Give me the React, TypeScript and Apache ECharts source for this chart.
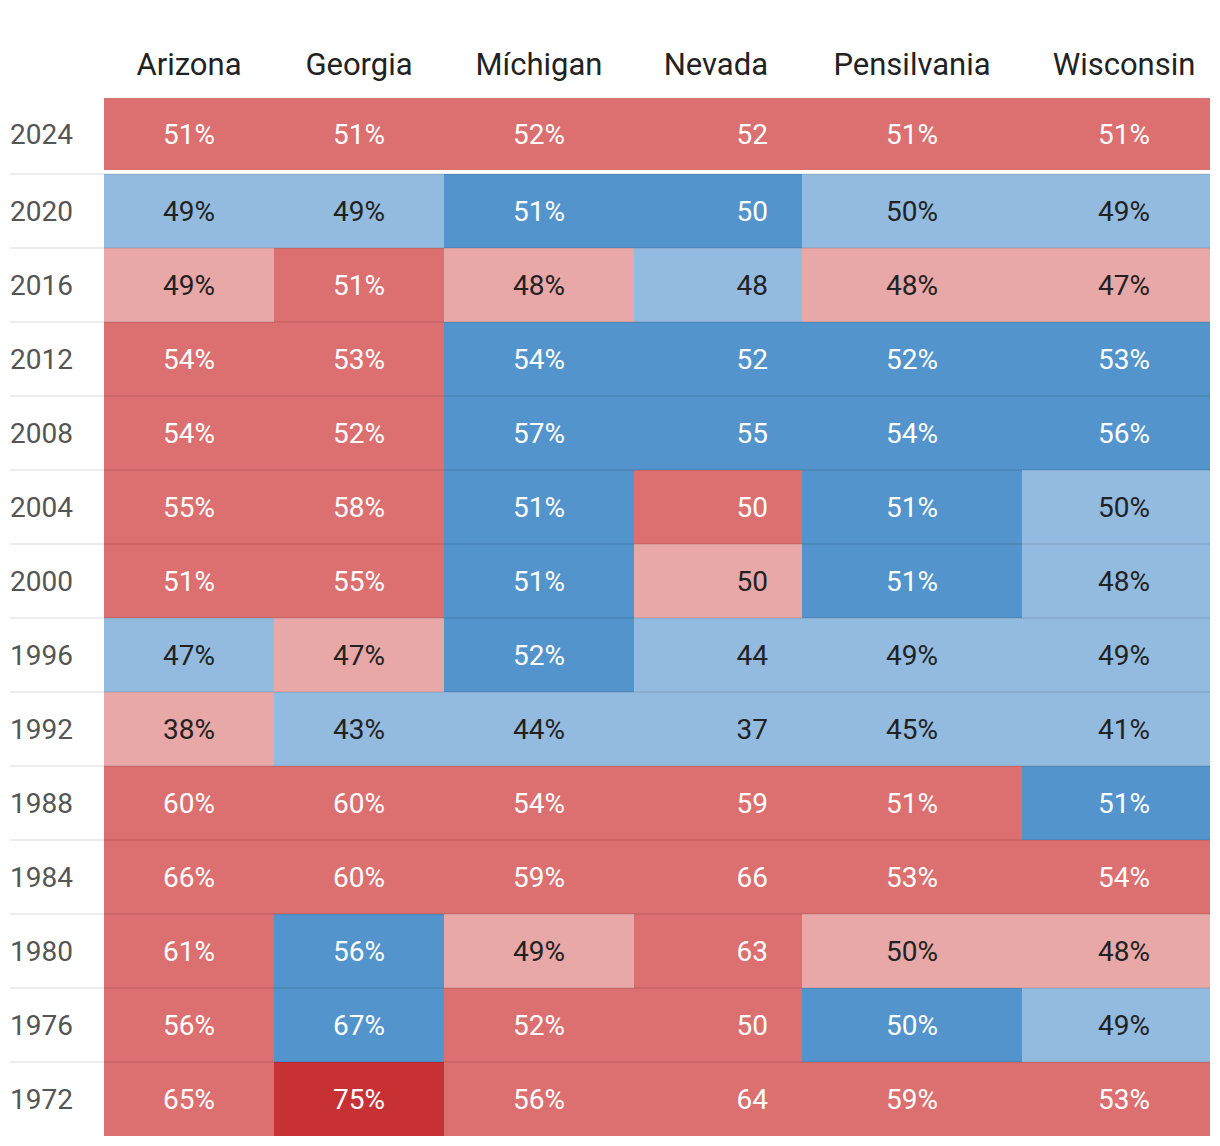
import React, { useEffect, useRef } from "react";
import * as echarts from "echarts";

const years = ["2024", "2020", "2016", "2012", "2008", "2004", "2000", "1996", "1992", "1988", "1984", "1980", "1976", "1972"];
const states = ["Arizona", "Georgia", "Míchigan", "Nevada", "Pensilvania", "Wisconsin"];
const suffixes = ["%", "%", "%", "", "%", "%"];

const arizona = [51, 49, 49, 54, 54, 55, 51, 47, 38, 60, 66, 61, 56, 65];
const georgia = [51, 49, 51, 53, 52, 58, 55, 47, 43, 60, 60, 56, 67, 75];
const michigan = [52, 51, 48, 54, 57, 51, 51, 52, 44, 54, 59, 49, 52, 56];
const nevada = [52, 50, 48, 52, 55, 50, 50, 44, 37, 59, 66, 63, 50, 64];
const pensilvania = [51, 50, 48, 52, 54, 51, 51, 49, 45, 51, 53, 50, 50, 59];
const wisconsin = [51, 49, 47, 53, 56, 50, 48, 49, 41, 51, 54, 48, 49, 53];

// R = Republican majority, r = Republican plurality, B / b = Democrat, RR = Republican landslide
const arizonaShade = ["R", "b", "r", "R", "R", "R", "R", "b", "r", "R", "R", "R", "R", "R"];
const georgiaShade = ["R", "b", "R", "R", "R", "R", "R", "r", "b", "R", "R", "B", "B", "RR"];
const michiganShade = ["R", "B", "r", "B", "B", "B", "B", "B", "b", "R", "R", "r", "R", "R"];
const nevadaShade = ["R", "B", "b", "B", "B", "R", "r", "b", "b", "R", "R", "R", "R", "R"];
const pensilvaniaShade = ["R", "b", "r", "B", "B", "B", "B", "b", "b", "R", "R", "r", "B", "R"];
const wisconsinShade = ["R", "b", "r", "B", "B", "b", "b", "b", "b", "B", "R", "r", "b", "R"];

const stateValues = [arizona, georgia, michigan, nevada, pensilvania, wisconsin];
const stateShades = [arizonaShade, georgiaShade, michiganShade, nevadaShade, pensilvaniaShade, wisconsinShade];

// layout (x units = pixels from grid left)
const colEdges = [94, 264, 434, 624, 792, 1012, 1200];
const textX = [179, 349, 529, 758, 902, 1114];
const textAlign = ["center", "center", "center", "right", "center", "center"];

const shadeFill: Record<string, string> = {
  R: "#dc6f6f",
  r: "#e8a8a8",
  RR: "#c83134",
  B: "#5294cb",
  b: "#93bbdf",
};
const shadeText: Record<string, string> = {
  R: "#ffffff",
  r: "#222222",
  RR: "#ffffff",
  B: "#ffffff",
  b: "#222222",
};

const FONT = "Roboto, 'Noto Sans', sans-serif";

export default function App() {
  const ref = useRef<HTMLDivElement>(null);
  useEffect(() => {
    document.body.style.margin = "0";
    const chart = echarts.init(ref.current!, null, { renderer: "svg" });
    const cells: { c: number; r: number; v: number; s: string }[] = [];
    stateValues.forEach((vals, c) => {
      vals.forEach((v, r) => cells.push({ c, r, v, s: stateShades[c][r] }));
    });
    const option: any = {
      animation: false,
      backgroundColor: "#ffffff",
      grid: { left: 10, right: 10, top: 100, bottom: 10 },
      xAxis: { type: "value", min: 0, max: 1200, show: false },
      yAxis: {
        type: "category",
        data: years,
        inverse: true,
        axisLine: { show: false },
        axisTick: { show: false },
        splitLine: { show: false },
        axisLabel: { show: false },
      },
      series: [
        {
          type: "custom",
          data: cells.map((d) => [d.c, d.r, d.v]),
          renderItem: (params: any, api: any) => {
            const cell = cells[params.dataIndex];
            const c = cell.c;
            const r = cell.r;
            const band = api.size([0, 1])[1];
            const center = api.coord([colEdges[c], r]);
            const x0 = center[0];
            const x1 = api.coord([colEdges[c + 1], r])[0];
            const bandTop = center[1] - band / 2;
            const top = r === 0 ? bandTop - 2 : bandTop;
            const h = r === 0 ? band - 2 : band;
            const cy = r === 0 ? bandTop + 34 : center[1];
            const tx = api.coord([textX[c], r])[0];
            const children: any[] = [
              {
                type: "rect",
                shape: { x: x0, y: top, width: x1 - x0, height: h },
                style: { fill: shadeFill[cell.s] },
              },
              {
                type: "text",
                x: tx,
                y: cy,
                style: {
                  text: cell.v + suffixes[c],
                  fill: shadeText[cell.s],
                  fontSize: 28,
                  fontFamily: FONT,
                  align: textAlign[c],
                  verticalAlign: "middle",
                },
              },
            ];
            if (c === 0) {
              children.push({
                type: "text",
                x: api.coord([0, r])[0],
                y: cy,
                style: {
                  text: years[r],
                  fill: "#555555",
                  fontSize: 28,
                  fontFamily: FONT,
                  align: "left",
                  verticalAlign: "middle",
                },
              });
            }
            if (r > 0) {
              const lx0 = c === 0 ? api.coord([0, r])[0] : x0;
              children.push({
                type: "rect",
                shape: { x: lx0, y: top - 1, width: x1 - lx0, height: 2 },
                style: { fill: "rgba(0,0,0,0.075)" },
              });
            }
            if (r === 0) {
              children.push({
                type: "text",
                x: tx,
                y: top - 34,
                style: {
                  text: states[c],
                  fill: "#222222",
                  fontSize: 31,
                  fontFamily: FONT,
                  align: textAlign[c],
                  verticalAlign: "middle",
                },
              });
            }
            return { type: "group", children };
          },
        },
      ],
    };
    chart.setOption(option);
    return () => chart.dispose();
  }, []);
  return <div ref={ref} style={{ width: 1220, height: 1146 }} />;
}
